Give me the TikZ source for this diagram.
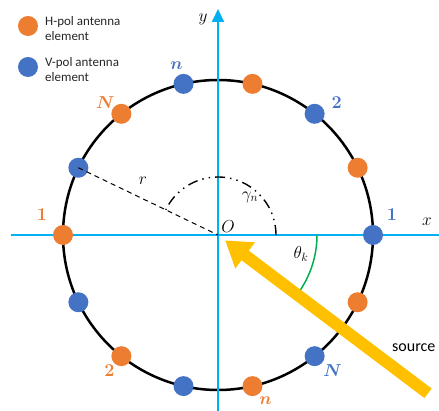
\documentclass[tikz,border=0pt]{standalone}
\usepackage{fontspec}
\setsansfont{Carlito}
\usepackage{amsmath,bm}
\usepackage{tikz}
\usetikzlibrary{arrows.meta,calc}
\definecolor{axcyan}{RGB}{0,176,240}
\definecolor{elorange}{RGB}{237,125,49}
\definecolor{elblue}{RGB}{68,114,196}
\definecolor{srcgold}{RGB}{255,192,0}
\definecolor{angreen}{RGB}{0,176,80}

\begin{document}
\begin{tikzpicture}[
  x=1pt, y=1pt,
  axis/.style={axcyan, line width=1.8pt},
  elem/.style={circle, inner sep=0pt, minimum size=20pt},
  hpol/.style={elem, fill=elorange},
  vpol/.style={elem, fill=elblue},
  idx/.style={font=\fontsize{18}{20}\selectfont\bfseries, inner sep=0pt},
  lgd/.style={font=\sffamily\fontsize{13}{15}\selectfont, align=left,
              anchor=west, text=black!85, inner sep=0pt},
  ml/.style={font=\fontsize{18}{20}\selectfont, inner sep=0pt}
]
\useasboundingbox (-218,-176) rectangle (221,235);
\coordinate (O) at (0,0);

% legend
\node[hpol] (lgdh) at (-190,209) {};
\node[lgd]  at (-173,206) {H-pol antenna\\element};
\node[vpol] (lgdv) at (-190,168) {};
\node[lgd]  at (-173,165) {V-pol antenna\\element};

% array and axes
\draw[black, line width=2.5pt] (O) circle (155);
\coordinate (xs) at (-207,0);
\coordinate (xe) at (221,0);
\coordinate (ys) at (0,-176);
\coordinate (ye) at (0,226);
\draw[axis] (xs) -- (xe);
\draw[axis, -{Triangle[width=12pt,length=13pt]}] (ys) -- (ye);
\node[ml] (xl) at (209,13) {$x$};
\node[ml] (yl) at (-15,216) {$y$};
\node[ml] (ol) at (10,8) {$O$};

\foreach \k in {0,...,6}{
  \node[vpol] (v\k) at ({\k*360/7}:155) {};
  \node[hpol] (h\k) at ({(\k+0.5)*360/7}:155) {};
}

% indices
\node[idx, elblue]   (lv0) at ($(v0)+(19,20)$)   {1};
\node[idx, elblue]   (lv1) at ($(v1)+(22,11)$)   {2};
\node[idx, elblue]   (lv2) at ($(v2)+(-7,18)$)   {$\bm{n}$};
\node[idx, elblue]   (lv6) at ($(v6)+(18,-14)$)  {$\bm{N}$};
\node[idx, elorange] (lh3) at ($(h3)+(-21,20)$)  {1};
\node[idx, elorange] (lh4) at ($(h4)+(-12,-14)$) {2};
\node[idx, elorange] (lh2) at ($(h2)+(-16,11)$)  {$\bm{N}$};
\node[idx, elorange] (lh5) at ($(h5)+(13,-15)$)  {$\bm{n}$};

% radius and angles
\draw[dashed, line width=1pt, dash pattern=on 5pt off 4pt] (v3.center) -- (O);
\node[ml] (rl) at (-75,54) {$r$};
\draw[line width=1.4pt, dash pattern=on 10pt off 5pt on 1.5pt off 5pt on 1.5pt off 5pt]
  (58,0) arc[start angle=0, end angle=154.3, radius=58];
\node[ml] (gl) at (32,38) {$\gamma_n$};
\draw[angreen, line width=1.5pt] (99,0) arc[start angle=0, end angle=-36, radius=99];
\node[ml] (tl) at (83,-19) {$\theta_k$};

% source
\coordinate (srct) at (-37:263);
\coordinate (srch) at (-37:9);
\draw[srcgold, line width=12pt, -{Triangle[width=31pt,length=25pt]}] (srct) -- (srch);
\node[font=\sffamily\fontsize{16}{18}\selectfont, anchor=west, inner sep=0pt]
  (srcl) at (174,-113) {source};
\end{tikzpicture}
\end{document}
